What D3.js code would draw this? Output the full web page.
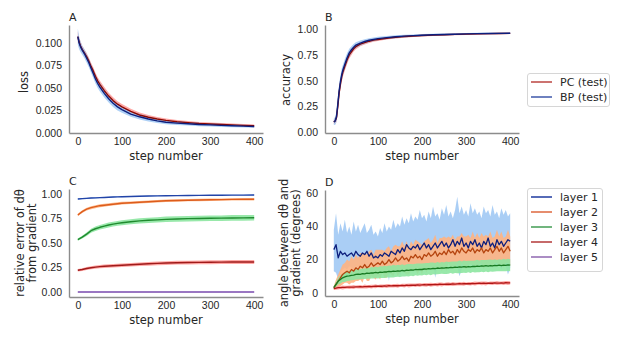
<!DOCTYPE html>
<html>
<head>
<meta charset="utf-8">
<script src="https://cdn.jsdelivr.net/npm/d3@7"></script>
<style>
  body { margin: 0; background: #fff; }
  svg { display: block; }
</style>
</head>
<body>
<div id="chart"></div>
<script>
// ---- data ----

const stepTicks = [0, 100, 200, 300, 400];

// A: loss
const stepsA = [0,3,6,10,15,20,25,30,35,40,45,50,60,70,80,90,100,120,140,160,180,200,225,250,275,300,325,350,375,400];
const bpLoss = [0.107,0.100,0.096,0.092,0.088,0.083,0.078,0.072,0.066,0.060,0.055,0.051,0.044,0.038,0.033,0.029,0.026,0.021,0.018,0.0155,0.0135,0.012,0.011,0.0102,0.0095,0.009,0.0085,0.008,0.0076,0.0072];
const bpLossSpread = [0.009,0.007,0.006,0.005,0.005,0.005,0.005,0.005,0.005,0.005,0.005,0.005,0.0045,0.004,0.004,0.004,0.0035,0.003,0.003,0.0027,0.0025,0.0023,0.0021,0.002,0.0019,0.0018,0.0017,0.0016,0.0016,0.0015];
const pcLoss = [0.107,0.101,0.097,0.093,0.089,0.085,0.080,0.074,0.069,0.063,0.058,0.054,0.047,0.041,0.036,0.032,0.029,0.024,0.020,0.0175,0.0155,0.014,0.0125,0.0115,0.0105,0.010,0.0095,0.009,0.0085,0.008];
const pcLossSpread = [0.006,0.005,0.005,0.004,0.004,0.004,0.004,0.004,0.004,0.004,0.004,0.004,0.004,0.0038,0.0036,0.0034,0.0032,0.003,0.0028,0.0026,0.0024,0.0022,0.002,0.0019,0.0018,0.0017,0.0016,0.0016,0.0015,0.0015];
const lossTicks = [0, 0.025, 0.05, 0.075, 0.1];

// B: accuracy
const stepsB = [0,3,6,9,12,15,18,21,25,30,35,40,45,50,60,70,80,90,100,120,140,160,180,200,225,250,275,300,325,350,375,400];
const bpAcc = [0.10,0.11,0.15,0.27,0.40,0.49,0.56,0.61,0.66,0.72,0.77,0.80,0.825,0.845,0.865,0.88,0.892,0.90,0.908,0.918,0.926,0.932,0.937,0.941,0.945,0.948,0.951,0.954,0.956,0.958,0.959,0.96];
const bpAccSpread = [0.03,0.04,0.05,0.06,0.06,0.06,0.06,0.05,0.05,0.045,0.04,0.035,0.03,0.028,0.025,0.022,0.02,0.018,0.017,0.015,0.014,0.013,0.012,0.011,0.01,0.01,0.009,0.009,0.008,0.008,0.008,0.008];
const pcAcc = [0.10,0.11,0.14,0.25,0.38,0.47,0.54,0.59,0.64,0.70,0.75,0.78,0.81,0.83,0.855,0.87,0.883,0.893,0.90,0.912,0.921,0.928,0.933,0.938,0.942,0.946,0.949,0.952,0.954,0.956,0.958,0.959];
const pcAccSpread = [0.02,0.03,0.04,0.05,0.05,0.05,0.05,0.045,0.04,0.04,0.035,0.03,0.028,0.025,0.022,0.02,0.018,0.016,0.015,0.013,0.012,0.011,0.01,0.01,0.009,0.009,0.008,0.008,0.008,0.007,0.007,0.007];
const unitTicks = [0, 0.25, 0.5, 0.75, 1];

// C: relative error per layer
const stepsC = [0,10,20,30,40,50,60,70,80,90,100,120,140,160,180,200,225,250,275,300,325,350,375,400];
const relErr1 = [0.948,0.952,0.955,0.958,0.96,0.962,0.964,0.966,0.968,0.97,0.971,0.974,0.976,0.978,0.98,0.982,0.983,0.984,0.985,0.986,0.987,0.988,0.988,0.989];
const relErr2 = [0.785,0.82,0.845,0.86,0.87,0.88,0.885,0.89,0.895,0.90,0.905,0.91,0.915,0.92,0.925,0.93,0.933,0.936,0.938,0.94,0.942,0.944,0.945,0.946];
const relErr3 = [0.535,0.56,0.59,0.625,0.645,0.66,0.672,0.683,0.692,0.70,0.706,0.716,0.725,0.731,0.736,0.741,0.745,0.748,0.75,0.752,0.753,0.755,0.756,0.757];
const relErr4 = [0.222,0.23,0.24,0.248,0.254,0.259,0.263,0.266,0.269,0.271,0.273,0.278,0.283,0.288,0.292,0.296,0.299,0.301,0.303,0.304,0.305,0.306,0.306,0.307];
const relErr5 = [0,0,0,0,0,0,0,0,0,0,0,0,0,0,0,0,0,0,0,0,0,0,0,0];
const relSpread1 = [0.008,0.007,0.006,0.006,0.006,0.005,0.005,0.005,0.005,0.005,0.005,0.005,0.004,0.004,0.004,0.004,0.004,0.004,0.004,0.004,0.004,0.004,0.004,0.004];
const relSpread2 = [0.012,0.014,0.015,0.015,0.015,0.015,0.015,0.014,0.014,0.014,0.014,0.013,0.013,0.013,0.013,0.012,0.012,0.012,0.012,0.012,0.012,0.012,0.012,0.012];
const relSpread3 = [0.012,0.015,0.018,0.02,0.022,0.023,0.024,0.025,0.025,0.025,0.026,0.026,0.027,0.027,0.027,0.028,0.028,0.028,0.028,0.028,0.028,0.029,0.029,0.029];
const relSpread4 = [0.012,0.014,0.015,0.016,0.016,0.017,0.017,0.017,0.018,0.018,0.018,0.018,0.018,0.019,0.019,0.019,0.019,0.019,0.02,0.02,0.02,0.02,0.02,0.02];
const relSpread5 = [0.003,0.003,0.003,0.003,0.003,0.003,0.003,0.003,0.003,0.003,0.003,0.003,0.003,0.003,0.003,0.003,0.003,0.003,0.003,0.003,0.003,0.003,0.003,0.003];

// D: angle per layer, one value every 5 steps (0..400)
const stepsD = d3.range(0, 401, 5);
const angle1 = [26,29,21,25,23,24,22,23,24,22, 25,23,22,24,23,25,22,24,21,22,
  21,23,22,24,23,22,25,24,23,26, 24,27,25,29,27,26,28,27,29,26,
  28,30,27,29,26,28,30,27,29,31, 28,30,27,29,32,28,31,29,33,28,
  30,27,31,29,32,28,30,27,31,29, 33,28,30,27,32,29,31,28,30,32, 31];
const angle1Hi = [38,48,35,42,37,44,36,40,35,43, 37,41,36,39,42,36,38,41,35,37,
  34,39,36,42,37,40,38,44,39,42, 40,46,41,45,42,48,43,46,44,50,
  45,47,43,49,45,52,46,48,44,51, 47,53,46,49,45,50,58,48,52,47,
  50,46,54,48,51,47,49,45,52,48, 50,46,53,47,49,45,51,47,50,46, 48];
const angle1Lo = [13,12,8,12,14,15,14,16,15,14, 16,15,17,15,14,16,15,17,14,8,
  15,16,14,17,16,7,17,16,15,18, 9,17,15,18,16,17,14,18,16,17,
  15,18,16,17,15,18,9,16,18,15, 17,16,18,17,15,18,16,10,14,18,
  17,16,18,15,17,16,18,17,15,18, 16,17,15,18,16,17,14,18,16,11, 15];
const angle2 = [3,5,7,9,11,12,13,12,14,13, 15,14,16,15,17,15,16,18,16,17,
  18,17,19,17,18,20,18,19,21,19, 20,22,20,21,19,22,21,23,21,22,
  20,23,22,24,22,23,25,22,24,23, 25,23,26,24,25,23,26,24,27,25,
  24,26,25,27,24,26,25,27,24,26, 25,27,24,26,28,25,27,24,26,28, 25];
const angle2Spread = [1,3,4,5,6,6,7,7,8,7, 8,7,8,9,7,8,9,8,7,9,
  8,9,7,8,9,8,7,9,8,9, 8,9,8,10,8,9,8,9,10,8,
  9,8,10,9,8,9,10,8,9,10, 9,10,8,9,10,9,8,10,9,9,
  10,9,8,10,9,10,8,9,10,9, 9,10,9,8,10,9,10,9,8,10, 9];
const angle3 = [3,5,7,8,9,9.5,10,10.2,10.5,10.6, 11,11.2,11.1,11.5,11.4,11.8,11.6,12,11.9,12.2,
  12,12.4,12.3,12.6,12.5,12.8,12.7,13,12.9,13.2, 13,13.4,13.2,13.6,13.5,13.8,13.6,14,13.9,14.1,
  14,14.3,14.2,14.5,14.4,14.7,14.5,14.9,14.7,15, 14.8,15.1,15,15.3,15.1,15.4,15.3,15.6,15.4,15.7,
  15.5,15.8,15.6,15.9,15.8,16.1,15.9,16.2,16,16.3, 16.1,16.4,16.2,16.5,16.3,16.6,16.4,16.7,16.5,16.8, 16.6];
const angle3Spread = [1,1.5,2,2.5,2.5,3,3,3,3,3, 3,3.2,3,3.3,3.1,3.4,3.2,3.5,3.3,3.4,
  3.4,3.6,3.5,3.7,3.4,3.6,3.5,3.8,3.5,3.6, 3.5,3.7,3.4,3.6,3.8,3.5,3.6,3.4,3.7,3.5,
  3.6,3.4,3.7,3.5,3.8,3.6,3.5,3.7,3.4,3.6, 3.5,3.8,3.6,3.4,3.7,3.5,3.6,3.8,3.5,3.7,
  3.6,3.5,3.7,3.4,3.6,3.8,3.5,3.6,3.7,3.5, 3.8,3.6,3.5,3.7,3.4,3.6,3.5,3.8,3.6,3.7, 3.6];
const angle4 = [2.5,2.8,3,3.1,3.2,3.2,3.3,3.3,3.4,3.4, 3.5,3.5,3.6,3.5,3.7,3.6,3.8,3.7,3.8,3.9,
  3.9,4,3.9,4.1,4,4.2,4.1,4.2,4.3,4.2, 4.3,4.4,4.3,4.5,4.4,4.5,4.6,4.5,4.7,4.6,
  4.7,4.8,4.7,4.9,4.8,4.9,5,4.9,5.1,5, 5,5.1,5.2,5.1,5.3,5.2,5.3,5.4,5.3,5.4,
  5.4,5.5,5.4,5.6,5.5,5.6,5.7,5.6,5.7,5.6, 5.7,5.8,5.7,5.9,5.8,5.8,5.9,5.8,6,5.9, 5.9];
const angle4Spread = [0.8,1,1.1,0.9,1.2,1,0.9,1.1,1,1.2, 0.8,1,1.1,0.9,1.2,1,0.9,1.1,1,1.2,
  0.8,1,1.1,0.9,1.2,1,0.9,1.1,1,1.2, 0.8,1,1.1,0.9,1.2,1,0.9,1.1,1,1.2,
  0.8,1,1.1,0.9,1.2,1,0.9,1.1,1,1.2, 0.8,1,1.1,0.9,1.2,1,0.9,1.1,1,1.2,
  0.8,1,1.1,0.9,1.2,1,0.9,1.1,1,1.2, 0.8,1,1.1,0.9,1.2,1,0.9,1.1,1,1.2, 1];
const angleTicks = [0, 20, 40, 60];

const lossLegend = ["PC (test)", "BP (test)"];
const layerLegend = ["layer 1", "layer 2", "layer 3", "layer 4", "layer 5"];

// ---- styling ----
const ink = "#262626";
const spineColor = "#8c8c8c";
const pastel = ["#a1c9f4", "#ffb482", "#8de5a1", "#ff9f9b", "#d0bbff"];
const lineC = ["#2244a8", "#dc5c1c", "#1f8a2e", "#a01a1a", "#9a76c2"];
const lineD = ["#0d1f7d", "#b5440f", "#177a22", "#b01515"];
const legendLayer = ["#2c46a6", "#e0714a", "#4ea35e", "#b84545", "#9670b5"];

const svg = d3.select("#chart")
  .append("svg")
    .attr("width", 623)
    .attr("height", 340)
    .style("font-family", '"DejaVu Sans", sans-serif');

function makePanel(box, yDomain, yTicks, yFormat, letter) {
  const x = d3.scaleLinear().domain([-20, 420]).range([box.left, box.right]);
  const y = d3.scaleLinear().domain(yDomain).range([box.bottom, box.top]);
  const marks = svg.append("g");

  // left spine + y ticks
  const ya = svg.append("g")
    .attr("transform", `translate(${box.left},0)`)
    .call(d3.axisLeft(y).tickValues(yTicks).tickFormat(yFormat)
      .tickSize(0).tickSizeOuter(0).tickPadding(7));
  // bottom spine + x ticks
  const xa = svg.append("g")
    .attr("transform", `translate(0,${box.bottom})`)
    .call(d3.axisBottom(x).tickValues(stepTicks).tickFormat(d3.format("d"))
      .tickSize(0).tickSizeOuter(0).tickPadding(5));
  [ya, xa].forEach(a => {
    a.select(".domain").attr("stroke", spineColor).attr("stroke-width", 1.4);
    a.selectAll("text").attr("fill", ink).style("font-size", "10.5px");
  });

  svg.append("text")
    .attr("x", (box.left + box.right) / 2)
    .attr("y", box.bottom + 27)
    .attr("text-anchor", "middle")
    .attr("fill", ink)
    .style("font-size", "11.5px")
    .text("step number");

  svg.append("text")
    .attr("x", box.left)
    .attr("y", box.top - 4)
    .attr("fill", ink)
    .style("font-size", "11px")
    .text(letter);

  return { x, y, marks };
}

function yLabel(lines, xs, cy) {
  lines.forEach((t, i) => {
    svg.append("text")
      .attr("transform", `translate(${xs[i]},${cy}) rotate(-90)`)
      .attr("text-anchor", "middle")
      .attr("fill", ink)
      .style("font-size", "11.5px")
      .text(t);
  });
}

function band(p, steps, lo, hi, color, opacity) {
  const area = d3.area()
    .x((d, i) => p.x(steps[i]))
    .y0((d, i) => p.y(lo[i]))
    .y1((d, i) => p.y(hi[i]));
  p.marks.append("path")
    .datum(steps)
    .attr("fill", color)
    .attr("fill-opacity", opacity)
    .attr("d", area);
}

function line(p, steps, vals, color, w) {
  const gen = d3.line()
    .x((d, i) => p.x(steps[i]))
    .y(d => p.y(d));
  p.marks.append("path")
    .datum(vals)
    .attr("fill", "none")
    .attr("stroke", color)
    .attr("stroke-width", w)
    .attr("stroke-linejoin", "round")
    .attr("d", gen);
}

const minus = (a, s) => a.map((v, i) => v - s[i]);
const plus = (a, s) => a.map((v, i) => v + s[i]);

function legend(x0, y0, w, h, labels, colors) {
  svg.append("rect")
    .attr("x", x0 + 0.5).attr("y", y0 + 0.5)
    .attr("width", w).attr("height", h)
    .attr("rx", 2.5)
    .attr("fill", "#fff")
    .attr("stroke", "#d6d6d6");
  labels.forEach((t, i) => {
    const cy = y0 + 9 + i * 15;
    svg.append("line")
      .attr("x1", x0 + 4).attr("x2", x0 + 25)
      .attr("y1", cy).attr("y2", cy)
      .attr("stroke", colors[i]).attr("stroke-width", 1.6);
    svg.append("text")
      .attr("x", x0 + 33).attr("y", cy + 4)
      .attr("fill", ink)
      .style("font-size", "11px")
      .text(t);
  });
}

// ---- A ----
const pA = makePanel({ left: 69, right: 263, top: 25, bottom: 133 }, [0, 0.12], lossTicks, d3.format(".3f"), "A");
band(pA, stepsA, minus(pcLoss, pcLossSpread), plus(pcLoss, pcLossSpread), pastel[3], 0.9);
band(pA, stepsA, minus(bpLoss, bpLossSpread), plus(bpLoss, bpLossSpread), pastel[0], 0.85);
line(pA, stepsA, pcLoss, "#8c0800", 1.4);
line(pA, stepsA, bpLoss, "#0d1f7d", 1.4);
yLabel(["loss"], [27.5], 82);

// ---- B ----
const pB = makePanel({ left: 325, right: 519, top: 25, bottom: 133 }, [-0.007, 1.04], unitTicks, d3.format(".2f"), "B");
band(pB, stepsB, minus(pcAcc, pcAccSpread), plus(pcAcc, pcAccSpread), pastel[3], 0.9);
band(pB, stepsB, minus(bpAcc, bpAccSpread), plus(bpAcc, bpAccSpread), pastel[0], 0.85);
line(pB, stepsB, pcAcc, "#8c0800", 1.4);
line(pB, stepsB, bpAcc, "#0d1f7d", 1.4);
yLabel(["accuracy"], [290], 80);
legend(527, 73, 82, 33, lossLegend, ["#c0504d", "#4a62b0"]);

// ---- C ----
const pC = makePanel({ left: 69, right: 263, top: 189, bottom: 297 }, [-0.05, 1.05], unitTicks, d3.format(".2f"), "C");
const relVals = [relErr1, relErr2, relErr3, relErr4, relErr5];
const relSpreads = [relSpread1, relSpread2, relSpread3, relSpread4, relSpread5];
relVals.forEach((v, k) => band(pC, stepsC, minus(v, relSpreads[k]), plus(v, relSpreads[k]), pastel[k], 0.9));
relVals.forEach((v, k) => line(pC, stepsC, v, lineC[k], k === 4 ? 2 : 1.4));
yLabel(["relative error of d\u03b8", "from gradient"], [24, 35.5], 243);

// ---- D ----
const pD = makePanel({ left: 325, right: 519, top: 190, bottom: 296 }, [-2, 62], angleTicks, d3.format("d"), "D");
band(pD, stepsD, angle1Lo, angle1Hi, pastel[0], 0.9);
band(pD, stepsD, minus(angle2, angle2Spread), plus(angle2, angle2Spread), pastel[1], 0.9);
band(pD, stepsD, minus(angle3, angle3Spread), plus(angle3, angle3Spread), pastel[2], 0.9);
band(pD, stepsD, minus(angle4, angle4Spread), plus(angle4, angle4Spread), pastel[3], 0.9);
[angle1, angle2, angle3, angle4].forEach((v, k) => line(pD, stepsD, v, lineD[k], 1.3));
yLabel(["angle between d\u03b8 and", "gradient (degrees)"], [288, 300], 243);
legend(527, 188, 75, 83, layerLegend, legendLayer);
</script>
</body>
</html>
